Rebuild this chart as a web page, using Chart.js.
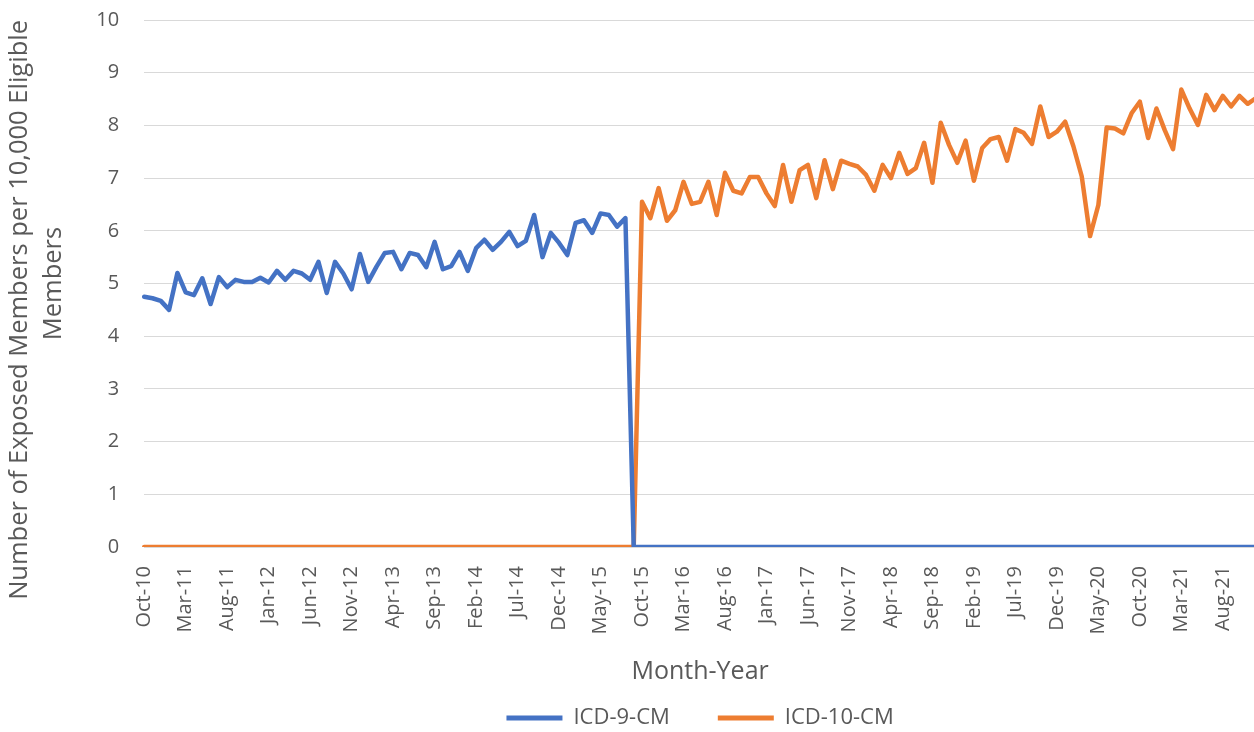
<!DOCTYPE html>
<html>
<head>
<meta charset="utf-8">
<script src="https://cdn.jsdelivr.net/npm/chart.js@4.4.0/dist/chart.umd.min.js"></script>
<style>
  html, body { margin: 0; padding: 0; overflow: hidden; background: #ffffff; }
  #wrap { width: 1258px; height: 739px; }
</style>
</head>
<body>
<div id="wrap"><canvas id="c" width="1258" height="739"></canvas></div>
<script>
// ---- categories (Month-Year) ----
const months = [
  "Oct-10","Nov-10","Dec-10",
  "Jan-11","Feb-11","Mar-11","Apr-11","May-11","Jun-11","Jul-11","Aug-11","Sep-11","Oct-11","Nov-11","Dec-11",
  "Jan-12","Feb-12","Mar-12","Apr-12","May-12","Jun-12","Jul-12","Aug-12","Sep-12","Oct-12","Nov-12","Dec-12",
  "Jan-13","Feb-13","Mar-13","Apr-13","May-13","Jun-13","Jul-13","Aug-13","Sep-13","Oct-13","Nov-13","Dec-13",
  "Jan-14","Feb-14","Mar-14","Apr-14","May-14","Jun-14","Jul-14","Aug-14","Sep-14","Oct-14","Nov-14","Dec-14",
  "Jan-15","Feb-15","Mar-15","Apr-15","May-15","Jun-15","Jul-15","Aug-15","Sep-15","Oct-15","Nov-15","Dec-15",
  "Jan-16","Feb-16","Mar-16","Apr-16","May-16","Jun-16","Jul-16","Aug-16","Sep-16","Oct-16","Nov-16","Dec-16",
  "Jan-17","Feb-17","Mar-17","Apr-17","May-17","Jun-17","Jul-17","Aug-17","Sep-17","Oct-17","Nov-17","Dec-17",
  "Jan-18","Feb-18","Mar-18","Apr-18","May-18","Jun-18","Jul-18","Aug-18","Sep-18","Oct-18","Nov-18","Dec-18",
  "Jan-19","Feb-19","Mar-19","Apr-19","May-19","Jun-19","Jul-19","Aug-19","Sep-19","Oct-19","Nov-19","Dec-19",
  "Jan-20","Feb-20","Mar-20","Apr-20","May-20","Jun-20","Jul-20","Aug-20","Sep-20","Oct-20","Nov-20","Dec-20",
  "Jan-21","Feb-21","Mar-21","Apr-21","May-21","Jun-21","Jul-21","Aug-21","Sep-21","Oct-21","Nov-21","Dec-21"
];

// ---- tick labels shown on the x axis ----
const shownTicks = [
  "Oct-10","Mar-11","Aug-11","Jan-12","Jun-12","Nov-12","Apr-13","Sep-13","Feb-14",
  "Jul-14","Dec-14","May-15","Oct-15","Mar-16","Aug-16","Jan-17","Jun-17","Nov-17",
  "Apr-18","Sep-18","Feb-19","Jul-19","Dec-19","May-20","Oct-20","Mar-21","Aug-21"
];

// ---- series: ICD-9-CM (Oct-10 .. Dec-21) ----
const icd9 = [
  4.75,4.72,4.67,
  4.50,5.20,4.83,4.78,5.10,4.61,5.12,4.93,5.07,5.03,5.03,5.11,
  5.02,5.24,5.07,5.24,5.19,5.07,5.41,4.82,5.41,5.19,4.89,5.56,
  5.03,5.32,5.58,5.60,5.27,5.58,5.54,5.31,5.79,5.27,5.33,5.60,
  5.24,5.67,5.83,5.64,5.79,5.98,5.71,5.81,6.30,5.50,5.96,5.77,
  5.54,6.15,6.20,5.96,6.33,6.30,6.08,6.24,0,0,0,0,
  0,0,0,0,0,0,0,0,0,0,0,0,
  0,0,0,0,0,0,0,0,0,0,0,0,
  0,0,0,0,0,0,0,0,0,0,0,0,
  0,0,0,0,0,0,0,0,0,0,0,0,
  0,0,0,0,0,0,0,0,0,0,0,0,
  0,0,0,0,0,0,0,0,0,0,0,0
];

// ---- series: ICD-10-CM (Oct-10 .. Dec-21) ----
const icd10 = [
  0,0,0,
  0,0,0,0,0,0,0,0,0,0,0,0,
  0,0,0,0,0,0,0,0,0,0,0,0,
  0,0,0,0,0,0,0,0,0,0,0,0,
  0,0,0,0,0,0,0,0,0,0,0,0,
  0,0,0,0,0,0,0,0,0,6.55,6.24,6.81,
  6.19,6.39,6.93,6.51,6.55,6.93,6.30,7.10,6.76,6.71,7.02,7.02,
  6.71,6.47,7.25,6.55,7.15,7.25,6.62,7.34,6.79,7.33,7.27,7.22,
  7.06,6.76,7.25,7.00,7.48,7.08,7.19,7.67,6.91,8.05,7.63,7.29,
  7.71,6.95,7.57,7.74,7.78,7.33,7.93,7.86,7.65,8.36,7.78,7.88,
  8.07,7.60,7.03,5.90,6.49,7.96,7.94,7.85,8.23,8.45,7.76,8.32,
  7.91,7.55,8.68,8.32,8.01,8.58,8.29,8.56,8.36,8.56,8.41,8.52
];

const seriesNames = ["ICD-9-CM", "ICD-10-CM"];
const seriesColors = ["#4472C4", "#ED7D31"];
const yTicks = [0,1,2,3,4,5,6,7,8,9,10];
const yTitle = ["Number of Exposed Members per 10,000 Eligible", "Members"];
const xTitle = "Month-Year";

const FONT = "'Open Sans', 'Noto Sans', sans-serif";
const GREY = "#595959";
const CLEAR = "rgba(0,0,0,0)";

new Chart(document.getElementById('c'), {
  type: 'line',
  data: {
    labels: months,
    datasets: [
      { label: seriesNames[0], data: icd9, borderColor: seriesColors[0], backgroundColor: seriesColors[0],
        borderWidth: 4.5, pointRadius: 0, tension: 0, fill: false,
        borderJoinStyle: 'round', borderCapStyle: 'round' },
      { label: seriesNames[1], data: icd10, borderColor: seriesColors[1], backgroundColor: seriesColors[1],
        borderWidth: 4.5, pointRadius: 0, tension: 0, fill: false,
        borderJoinStyle: 'round', borderCapStyle: 'round' }
    ]
  },
  options: {
    responsive: false,
    animation: false,
    devicePixelRatio: 1,
    layout: { padding: { top: 20, right: 2, bottom: 0, left: 0 } },
    plugins: {
      tooltip: { enabled: false },
      title: {
        display: true, position: 'left', align: 'end', fullSize: true,
        text: yTitle[0], color: GREY,
        font: { family: FONT, size: 25.5, weight: 'normal', lineHeight: 1.2 },
        padding: { top: 4, bottom: 4 }
      },
      subtitle: {
        display: true, position: 'left', align: 'center', fullSize: false,
        text: yTitle[1], color: GREY,
        font: { family: FONT, size: 25.5, weight: 'normal', lineHeight: 1.2 },
        padding: { top: 0, bottom: 0 }
      },
      legend: {
        display: true, position: 'bottom', align: 'center', fullSize: false,
        labels: {
          boxWidth: 56, boxHeight: 5, padding: 48, color: GREY,
          font: { family: FONT, size: 22 },
          generateLabels: (chart) => {
            const items = Chart.defaults.plugins.legend.labels.generateLabels(chart);
            items.forEach(it => { it.lineWidth = 0; it.fillStyle = it.strokeStyle; });
            return items;
          }
        }
      }
    },
    scales: {
      x: {
        type: 'category',
        offset: false,
        grid: { display: true, color: CLEAR, drawOnChartArea: false, drawTicks: true, tickLength: 16, tickColor: CLEAR },
        border: { display: true, color: '#d9d9d9' },
        ticks: {
          autoSkip: false, minRotation: 90, maxRotation: 90, padding: 3,
          color: GREY, font: { family: FONT, size: 20 },
          callback: function(value) {
            const lab = this.getLabelForValue(value);
            return shownTicks.includes(lab) ? lab : null;
          }
        },
        title: {
          display: true, text: xTitle, color: GREY,
          font: { family: FONT, size: 25, lineHeight: 1.2 },
          padding: { top: 0, bottom: -28 }
        },
        afterFit: (scale) => { scale.height = 112; }
      },
      y: {
        min: 0, max: 10,
        afterBuildTicks: (scale) => { scale.ticks = yTicks.map(v => ({ value: v })); },
        grid: { color: '#d9d9d9', lineWidth: 1, drawTicks: true, tickLength: 22, tickColor: CLEAR },
        border: { display: false },
        ticks: { padding: 3, color: GREY, font: { family: FONT, size: 20 } },
        afterFit: (scale) => { scale.width = 75; }
      }
    }
  }
});
</script>
</body>
</html>
